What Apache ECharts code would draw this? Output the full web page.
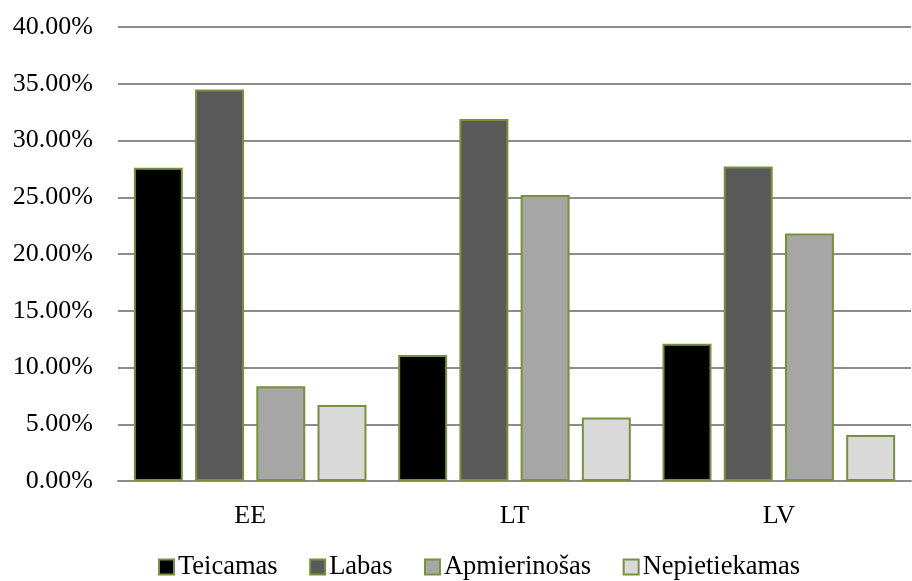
<!DOCTYPE html>
<html>
<head>
<meta charset="utf-8">
<script src="https://cdn.jsdelivr.net/npm/echarts@6/dist/echarts.min.js"></script>
<style>
  html, body { margin: 0; padding: 0; background: #fff; }
  #chart { width: 912px; height: 581px; }
</style>
</head>
<body>
<div id="chart"></div>
<script>
// Country categories
const countries = ['EE', 'LT', 'LV'];
// Assessment shares per country, in percent
const teicamas = [27.6, 11.1, 12.1];
const labas = [34.5, 31.9, 27.7];
const apmierinosas = [8.35, 25.2, 21.8];
const nepietiekamas = [6.7, 5.6, 4.05];

const seriesNames = ['Teicamas', 'Labas', 'Apmierinošas', 'Nepietiekamas'];
const seriesData = [teicamas, labas, apmierinosas, nepietiekamas];
const fills = ['#000000', '#595959', '#a6a6a6', '#d9d9d9'];
const edge = '#76923c';
const font = '"Liberation Serif", "Times New Roman", serif';

const chart = echarts.init(document.getElementById('chart'));
chart.setOption({
  animation: false,
  backgroundColor: '#ffffff',
  textStyle: { fontFamily: font },
  grid: { left: 118, right: 1, top: 27, bottom: 100, containLabel: false },
  legend: {
    top: 552,
    left: 158,
    padding: 0,
    itemWidth: 15,
    itemHeight: 15,
    itemGap: 31.5,
    icon: 'rect',
    textStyle: { fontFamily: font, fontSize: 26.5, lineHeight: 30, color: '#000', padding: [0, 0, 0, -1] },
    data: seriesNames
  },
  xAxis: {
    type: 'category',
    data: countries,
    axisLine: { lineStyle: { color: '#8c8c8c', width: 2 } },
    axisTick: { show: false },
    axisLabel: { fontFamily: font, fontSize: 26, color: '#000', margin: 22 }
  },
  yAxis: {
    type: 'value',
    min: 0,
    max: 40,
    interval: 5,
    axisLine: { show: false },
    axisTick: { show: false },
    splitLine: { lineStyle: { color: '#8c8c8c', width: 2 } },
    axisLabel: {
      fontFamily: font, fontSize: 26, color: '#000', margin: 25,
      formatter: v => v.toFixed(2) + '%'
    }
  },
  series: seriesNames.map((name, i) => ({
    name: name,
    type: 'bar',
    data: seriesData[i],
    barGap: '25%',
    barCategoryGap: '12%',
    itemStyle: { color: fills[i], borderColor: edge, borderWidth: 2 }
  }))
});
</script>
</body>
</html>
